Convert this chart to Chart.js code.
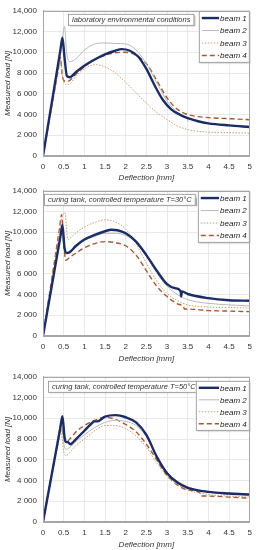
<!DOCTYPE html>
<html lang="en">
<head>
    <meta charset="UTF-8">
    <title>Load - deflection curves</title>
    <script src="https://cdn.jsdelivr.net/npm/chart.js"></script>
    <style>
        body {
            margin: 0;
            background: #ffffff;
        }
        .wrap {
            position: relative;
            width: 258px;
            height: 550px;
        }
        canvas {
            position: absolute;
            left: 0;
        }
    </style>
</head>
<body>
    <div class="wrap">
        <canvas id="chart1" width="258" height="183" style="top:0px"></canvas>
        <canvas id="chart2" width="258" height="184" style="top:180px"></canvas>
        <canvas id="chart3" width="258" height="184" style="top:366px"></canvas>
    </div>

    <script>
        // series names and panel titles
        var beamNames = ['beam 1', 'beam 2', 'beam 3', 'beam 4'];
        var panelTitles = [
            'laboratory environmental conditions',
            'curing tank, controlled temperature T=30°C',
            'curing tank, controlled temperature T=50°C'
        ];
        var xTicks = [0, 0.5, 1, 1.5, 2, 2.5, 3, 3.5, 4, 4.5, 5];
        var yTicks = [0, 2000, 4000, 6000, 8000, 10000, 12000, 14000];

        // Panel 1 - laboratory environmental conditions (deflection mm / load N)
        var p1b1x = [0, 0.25, 0.42, 0.47, 0.52, 0.58, 0.65, 0.8, 1.0, 1.25, 1.5, 1.75, 1.9, 2.1, 2.3, 2.5, 2.7, 2.9, 3.1, 3.3, 3.5, 3.75, 4.0, 4.5, 5.0];
        var p1b1y = [0, 6060, 10190, 11400, 9500, 7700, 7600, 8100, 8700, 9300, 9800, 10150, 10300, 10150, 9600, 8400, 6800, 5400, 4500, 4000, 3650, 3350, 3150, 2950, 2800];
        var p1b2x = [0, 0.25, 0.47, 0.52, 0.57, 0.65, 0.8, 1.0, 1.25, 1.5, 1.75, 2.0, 2.2, 2.4, 2.6, 2.8, 3.0, 3.2, 3.4, 3.5, 3.51];
        var p1b2y = [0, 6010, 11300, 12500, 10000, 9100, 9400, 10200, 10800, 10900, 10850, 10800, 10400, 9500, 8200, 6700, 5300, 4400, 3800, 3600, 3300];
        var p1b3x = [0, 0.25, 0.37, 0.42, 0.48, 0.55, 0.62, 0.8, 1.0, 1.25, 1.5, 1.75, 2.0, 2.25, 2.5, 2.75, 3.0, 3.25, 3.5, 4.0, 4.5, 5.0];
        var p1b3y = [0, 5540, 8190, 9300, 7500, 6900, 6900, 7700, 8400, 8800, 8600, 8000, 7100, 6100, 5100, 4200, 3500, 2900, 2550, 2300, 2250, 2200];
        var p1b4x = [0, 0.25, 0.37, 0.42, 0.47, 0.55, 0.65, 0.8, 1.0, 1.25, 1.5, 1.75, 2.0, 2.25, 2.5, 2.75, 3.0, 3.25, 3.5, 4.0, 4.5, 5.0];
        var p1b4y = [0, 5650, 8370, 9500, 7600, 7200, 7300, 7900, 8600, 9300, 9700, 9950, 10000, 9700, 8900, 7300, 5600, 4500, 4000, 3700, 3600, 3500];

        // Panel 2 - curing tank T=30°C
        var p2b1x = [0, 0.25, 0.42, 0.47, 0.52, 0.57, 0.65, 0.8, 1.0, 1.25, 1.5, 1.65, 1.8, 2.0, 2.25, 2.5, 2.75, 3.0, 3.2, 3.33, 3.34, 3.36, 3.5, 4.0, 4.5, 5.0];
        var p2b1y = [0, 5690, 9560, 10700, 8500, 8000, 8100, 8700, 9300, 9750, 10100, 10250, 10200, 9900, 9100, 7800, 6300, 5000, 4600, 4300, 3800, 4300, 4050, 3650, 3450, 3400];
        var p2b2x = [0, 0.25, 0.4, 0.45, 0.5, 0.57, 0.65, 0.8, 1.0, 1.25, 1.5, 1.75, 2.0, 2.25, 2.5, 2.75, 3.0, 3.25, 3.5, 4.0, 4.5, 5.0];
        var p2b2y = [0, 5780, 9240, 10400, 8800, 8000, 8050, 8600, 9200, 9600, 9900, 9900, 9700, 9000, 7700, 6100, 4800, 4000, 3500, 3150, 3000, 2900];
        var p2b3x = [0, 0.25, 0.4, 0.45, 0.53, 0.6, 0.7, 0.85, 1.0, 1.25, 1.5, 1.75, 2.0, 2.25, 2.5, 2.75, 3.0, 3.25, 3.5, 4.0, 4.5, 5.0];
        var p2b3y = [0, 6280, 10040, 11300, 11900, 9300, 9600, 10100, 10500, 10950, 11200, 11000, 10300, 8900, 7000, 5300, 4100, 3400, 3000, 2800, 2750, 2700];
        var p2b4x = [0, 0.25, 0.4, 0.45, 0.5, 0.55, 0.65, 0.8, 1.0, 1.25, 1.5, 1.75, 2.0, 2.25, 2.5, 2.75, 3.0, 3.25, 3.4, 3.42, 3.5, 4.0, 4.5, 5.0];
        var p2b4y = [0, 6500, 10400, 11700, 9000, 7300, 7600, 8000, 8500, 8900, 9100, 9000, 8700, 7800, 6300, 4800, 3800, 3100, 2800, 2600, 2600, 2450, 2400, 2350];

        // Panel 3 - curing tank T=50°C
        var p3b1x = [0, 0.25, 0.42, 0.47, 0.52, 0.56, 0.6, 0.66, 0.8, 1.0, 1.15, 1.25, 1.32, 1.5, 1.75, 2.0, 2.25, 2.5, 2.75, 3.0, 3.25, 3.5, 4.0, 4.5, 5.0];
        var p3b1y = [0, 5430, 9110, 10200, 8200, 7700, 7700, 7500, 8000, 8800, 9400, 9700, 9700, 10150, 10300, 10100, 9600, 8400, 6300, 4700, 3800, 3300, 2900, 2750, 2650];
        var p3b2x = [0, 0.25, 0.4, 0.45, 0.5, 0.55, 0.65, 0.8, 1.0, 1.25, 1.5, 1.75, 2.0, 2.25, 2.5, 2.75, 3.0, 3.5, 4.0, 4.5, 5.0];
        var p3b2y = [0, 5330, 8530, 9600, 7600, 7000, 7200, 7800, 8400, 9100, 9600, 9800, 9700, 9300, 8200, 6300, 4800, 3400, 2950, 2800, 2700];
        var p3b3x = [0, 0.25, 0.38, 0.43, 0.5, 0.55, 0.65, 0.8, 1.0, 1.25, 1.5, 1.75, 2.0, 2.25, 2.5, 2.75, 3.0, 3.5, 4.0, 4.5, 5.0];
        var p3b3y = [0, 5120, 7780, 8800, 6800, 6400, 6700, 7400, 8000, 8800, 9300, 9300, 9000, 8300, 7200, 5700, 4400, 3100, 2650, 2500, 2400];
        var p3b4x = [0, 0.25, 0.38, 0.43, 0.5, 0.55, 0.65, 0.8, 1.0, 1.25, 1.5, 1.75, 2.0, 2.25, 2.5, 2.75, 3.0, 3.5, 3.8, 3.82, 4.0, 4.5, 5.0];
        var p3b4y = [0, 5470, 8300, 9400, 8200, 7700, 8000, 8700, 9300, 9800, 10100, 9900, 9400, 8700, 7500, 6000, 4500, 3100, 2800, 2500, 2500, 2400, 2300];

        // line styles for beam 1..4
        var beamColors = ['#1c2d66', '#b9b9b9', '#c99e78', '#a35a33'];
        var beamWidths = [2.4, 1, 1, 1.4];
        var beamDashes = [[], [], [1.5, 1.5], [5, 3]];

        var FONT = "'Liberation Sans', Arial, sans-serif";

        function toPoints(xs, ys) {
            return xs.map(function (x, i) { return { x: x, y: ys[i] }; });
        }

        function loadLabel(v) {
            if (v === 0) return '0';
            if (v >= 10000) return v.toLocaleString('en-US');
            return String(v / 1000) + ' 000';
        }

        // draws the panel title box and the legend inside the plot
        var boxesPlugin = {
            id: 'boxes',
            afterDatasetsDraw: function (chart, args, opts) {
                var ctx = chart.ctx;
                var ca = chart.chartArea;
                ctx.save();

                // title box
                ctx.font = 'italic 7.5px ' + FONT;
                var tw = ctx.measureText(opts.title).width;
                var bx = ca.left + opts.titleDx, by = ca.top + opts.titleDy;
                var bw = tw + 8, bh = 12;
                ctx.shadowColor = 'rgba(0,0,0,0.35)';
                ctx.shadowOffsetX = 1.5;
                ctx.shadowOffsetY = 1.5;
                ctx.shadowBlur = 1.5;
                ctx.fillStyle = '#ffffff';
                ctx.fillRect(bx, by, bw, bh);
                ctx.shadowColor = 'transparent';
                ctx.strokeStyle = '#8c8c8c';
                ctx.lineWidth = 0.8;
                ctx.strokeRect(bx + 0.5, by + 0.5, bw - 1, bh - 1);
                ctx.fillStyle = '#333333';
                ctx.textBaseline = 'middle';
                ctx.textAlign = 'center';
                ctx.fillText(opts.title, bx + bw / 2, by + bh / 2 + 0.5);

                // legend box
                var lw = opts.legendW, lh = opts.legendH;
                var lx = ca.right - lw, ly = ca.top + opts.legendDy;
                ctx.shadowColor = 'rgba(0,0,0,0.35)';
                ctx.shadowOffsetX = 1.5;
                ctx.shadowOffsetY = 1.5;
                ctx.shadowBlur = 1.5;
                ctx.fillStyle = '#ffffff';
                ctx.fillRect(lx, ly, lw, lh);
                ctx.shadowColor = 'transparent';
                ctx.strokeStyle = '#8c8c8c';
                ctx.strokeRect(lx + 0.5, ly + 0.5, lw - 1, lh - 1);

                ctx.font = 'italic 8px ' + FONT;
                ctx.textAlign = 'right';
                var rowH = (lh - 2) / 4;
                chart.data.datasets.forEach(function (ds, i) {
                    var ry = ly + 1 + rowH * (i + 0.5);
                    var tx = lx + lw - 3;
                    var tws = ctx.measureText(ds.label).width;
                    ctx.fillStyle = '#222222';
                    ctx.fillText(ds.label, tx, ry + 0.5);
                    ctx.beginPath();
                    ctx.setLineDash(ds.borderDash);
                    ctx.strokeStyle = ds.borderColor;
                    ctx.lineWidth = ds.borderWidth;
                    ctx.moveTo(lx + 3, ry);
                    ctx.lineTo(tx - tws - 1, ry);
                    ctx.stroke();
                    ctx.setLineDash([]);
                });
                ctx.restore();
            }
        };

        function makeChart(id, xs, ys, box) {
            var datasets = beamNames.map(function (name, i) {
                return {
                    label: name,
                    data: toPoints(xs[i], ys[i]),
                    borderColor: beamColors[i],
                    borderWidth: beamWidths[i],
                    borderDash: beamDashes[i],
                    pointRadius: 0,
                    fill: false,
                    cubicInterpolationMode: 'monotone'
                };
            });
            return new Chart(document.getElementById(id), {
                type: 'line',
                data: { datasets: datasets },
                plugins: [boxesPlugin],
                options: {
                    responsive: false,
                    animation: false,
                    events: [],
                    layout: { padding: { top: 10, right: 7, left: 0, bottom: 0 } },
                    plugins: {
                        legend: { display: false },
                        tooltip: { enabled: false },
                        boxes: box
                    },
                    scales: {
                        x: {
                            type: 'linear',
                            min: 0,
                            max: 5,
                            afterBuildTicks: function (s) { s.ticks = xTicks.map(function (v) { return { value: v }; }); },
                            afterFit: function (s) { s.height = box.xh; },
                            ticks: {
                                padding: 6,
                                maxRotation: 0,
                                color: '#333333',
                                font: { family: FONT, size: 8 },
                                callback: function (v) { return String(v); }
                            },
                            grid: { color: '#e3e3e3', lineWidth: 0.8, drawTicks: false },
                            border: { color: '#a6a6a6', width: 1 },
                            title: {
                                display: true,
                                text: 'Deflection [mm]',
                                color: '#333333',
                                font: { family: FONT, size: 8, style: 'italic' },
                                padding: { top: 0, bottom: 0 }
                            }
                        },
                        y: {
                            min: 0,
                            max: 14000,
                            afterBuildTicks: function (s) { s.ticks = yTicks.map(function (v) { return { value: v }; }); },
                            afterFit: function (s) { s.width = 43; },
                            ticks: {
                                padding: 6,
                                color: '#333333',
                                font: { family: FONT, size: 8 },
                                callback: function (v) { return loadLabel(v); }
                            },
                            grid: { color: '#e3e3e3', lineWidth: 0.8, drawTicks: false },
                            border: { color: '#a6a6a6', width: 1 },
                            title: {
                                display: true,
                                text: 'Measured load [N]',
                                color: '#333333',
                                font: { family: FONT, size: 8, style: 'italic' },
                                padding: { top: 3, bottom: 0 }
                            }
                        }
                    }
                },
            });
        }

        // frame around the whole plot area
        Chart.register({
            id: 'plotFrame',
            afterDraw: function (chart) {
                var ca = chart.chartArea, ctx = chart.ctx;
                ctx.save();
                ctx.strokeStyle = '#a6a6a6';
                ctx.lineWidth = 1;
                ctx.strokeRect(Math.round(ca.left) + 0.5, Math.round(ca.top) + 0.5,
                    Math.round(ca.width) - 1, Math.round(ca.height) - 1);
                ctx.restore();
            }
        });

        makeChart('chart1', [p1b1x, p1b2x, p1b3x, p1b4x], [p1b1y, p1b2y, p1b3y, p1b4y],
            { title: panelTitles[0], titleDx: 25, titleDy: 3, legendW: 51, legendH: 52, legendDy: 0, xh: 27 });
        makeChart('chart2', [p2b1x, p2b2x, p2b3x, p2b4x], [p2b1y, p2b2y, p2b3y, p2b4y],
            { title: panelTitles[1], titleDx: 1, titleDy: 3, legendW: 52, legendH: 52, legendDy: 0, xh: 28 });
        makeChart('chart3', [p3b1x, p3b2x, p3b3x, p3b4x], [p3b1y, p3b2y, p3b3y, p3b4y],
            { title: panelTitles[2], titleDx: 5, titleDy: 4, legendW: 54, legendH: 50, legendDy: 4, xh: 28 });
    </script>
</body>
</html>
